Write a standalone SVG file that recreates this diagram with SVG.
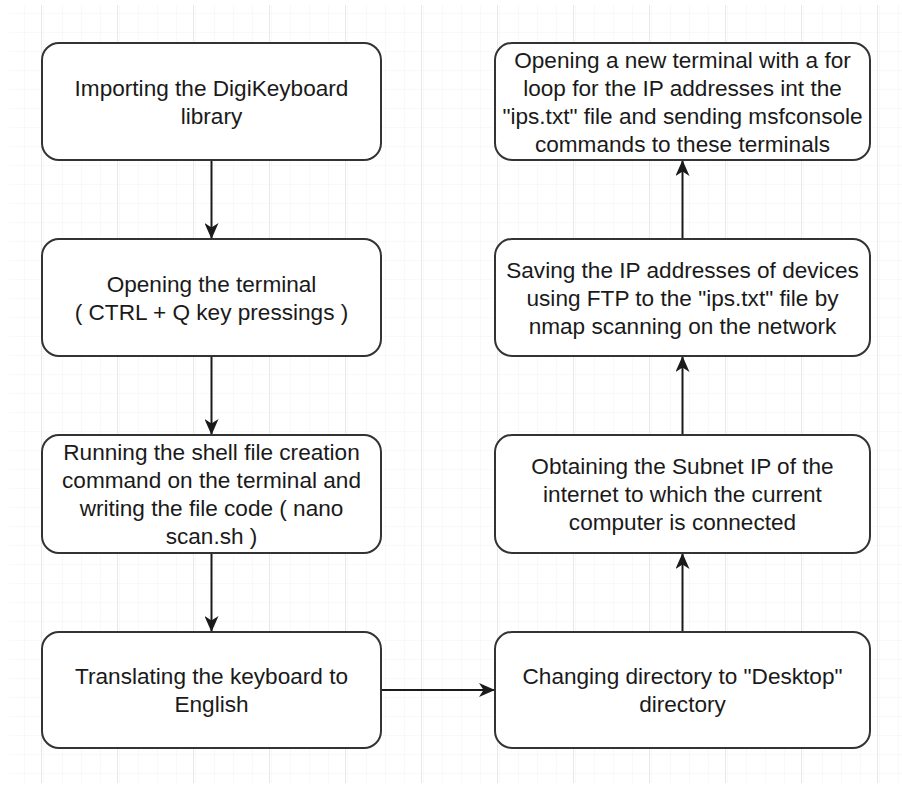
<svg xmlns="http://www.w3.org/2000/svg" width="902" height="785" viewBox="0 0 902 785">
<style>
.box{fill:#ffffff;stroke:#333333;stroke-width:2}
.lbl{font-family:"Liberation Sans",Arial,sans-serif;font-size:22.6px;fill:#1a1a1a;text-anchor:middle}
.edge{fill:none;stroke:#1a1a1a;stroke-width:2}
</style>
<defs>
<pattern id="minor" x="3" y="7" width="19" height="19" patternUnits="userSpaceOnUse">
<path d="M19 0V19M0 19H19" fill="none" stroke="#f2f2f2" stroke-width="1"/>
</pattern>
<pattern id="major" x="41" y="7" width="76" height="76" patternUnits="userSpaceOnUse">
<rect width="76" height="76" fill="url(#minor)"/>
<path d="M0.5 0V76M0 76.5H76" fill="none" stroke="#e8e8e8" stroke-width="1"/>
</pattern>
<marker id="arr" viewBox="0 0 16 14" refX="15" refY="7" markerWidth="16" markerHeight="14" markerUnits="userSpaceOnUse" orient="auto">
<path d="M0 0L16 7L0 14L4.5 7Z" fill="#1a1a1a"/>
</marker>
</defs>
<rect x="0" y="0" width="902" height="785" fill="#ffffff"/>
<rect x="9" y="5" width="893" height="778" fill="url(#major)"/>
<g id="connectors">
<path class="edge" d="M211.5 160V238" marker-end="url(#arr)"/>
<path class="edge" d="M211.5 356V434" marker-end="url(#arr)"/>
<path class="edge" d="M211.5 553V631" marker-end="url(#arr)"/>
<path class="edge" d="M381 690H494" marker-end="url(#arr)"/>
<path class="edge" d="M682.5 632V554" marker-end="url(#arr)"/>
<path class="edge" d="M682.5 435V357" marker-end="url(#arr)"/>
<path class="edge" d="M682.5 239V161" marker-end="url(#arr)"/>
</g>
<g id="n1">
<rect class="box" x="42" y="43" width="339" height="117" rx="17"/>
<text class="lbl" x="211.5" y="96">Importing the DigiKeyboard</text>
<text class="lbl" x="211.5" y="124">library</text>
</g>
<g id="n2">
<rect class="box" x="42" y="239" width="339" height="117" rx="17"/>
<text class="lbl" x="211.5" y="292">Opening the terminal</text>
<text class="lbl" x="211.5" y="320">( CTRL + Q key pressings )</text>
</g>
<g id="n3">
<rect class="box" x="42" y="435" width="339" height="118" rx="17"/>
<text class="lbl" x="211.5" y="460">Running the shell file creation</text>
<text class="lbl" x="211.5" y="488">command on the terminal and</text>
<text class="lbl" x="211.5" y="516">writing the file code ( nano</text>
<text class="lbl" x="211.5" y="544">scan.sh )</text>
</g>
<g id="n4">
<rect class="box" x="42" y="632" width="339" height="116" rx="17"/>
<text class="lbl" x="211.5" y="684">Translating the keyboard to</text>
<text class="lbl" x="211.5" y="712">English</text>
</g>
<g id="n5">
<rect class="box" x="495" y="632" width="375" height="116" rx="17"/>
<text class="lbl" x="682.5" y="684">Changing directory to "Desktop"</text>
<text class="lbl" x="682.5" y="712">directory</text>
</g>
<g id="n6">
<rect class="box" x="495" y="435" width="375" height="118" rx="17"/>
<text class="lbl" x="682.5" y="474">Obtaining the Subnet IP of the</text>
<text class="lbl" x="682.5" y="502">internet to which the current</text>
<text class="lbl" x="682.5" y="530">computer is connected</text>
</g>
<g id="n7">
<rect class="box" x="495" y="239" width="375" height="117" rx="17"/>
<text class="lbl" x="682.5" y="278">Saving the IP addresses of devices</text>
<text class="lbl" x="682.5" y="306">using FTP to the "ips.txt" file by</text>
<text class="lbl" x="682.5" y="334">nmap scanning on the network</text>
</g>
<g id="n8">
<rect class="box" x="495" y="43" width="375" height="117" rx="17"/>
<text class="lbl" x="682.5" y="68">Opening a new terminal with a for</text>
<text class="lbl" x="682.5" y="96">loop for the IP addresses int the</text>
<text class="lbl" x="682.5" y="124">"ips.txt" file and sending msfconsole</text>
<text class="lbl" x="682.5" y="152">commands to these terminals</text>
</g>
</svg>
